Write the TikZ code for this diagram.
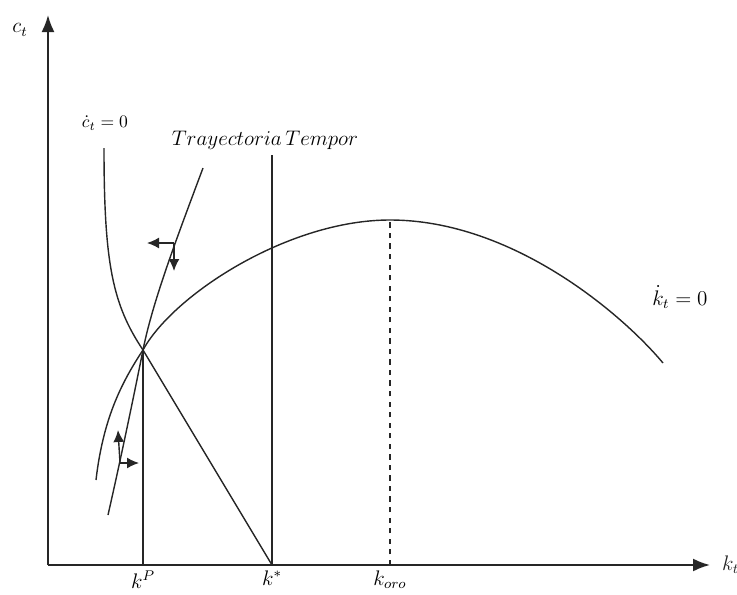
\documentclass[tikz,border=0pt]{standalone}
\usetikzlibrary{arrows.meta}
\begin{document}
\begin{tikzpicture}[>={Latex[length=3.4mm,width=2.6mm]}, every node/.style={font=\large},
    curva/.style={line width=0.8pt, black!85},
    flecha/.style={line width=0.8pt, black!85, -{Latex[length=2.4mm,width=2.2mm]}}]
    \useasboundingbox (-0.96,-0.58) rectangle (13.78,11.3);
    % puntos principales
    \coordinate (O) at (0,0);
    \coordinate (E) at (1.9,4.3);
    \coordinate (kp) at (1.9,0);
    \coordinate (ks) at (4.48,0);
    \coordinate (koro) at (6.84,0);
    \coordinate (oro) at (6.84,6.9);

    % ejes
    \draw[->, line width=1.1pt, black!85] (O) -- (13.24,0) node[right=3pt] {$k_t$};
    \draw[->, line width=1.1pt, black!85] (O) -- (0,11.0);
    \node at (-0.56,10.7) {$c_t$};

    % curva kdot = 0
    \draw[curva] (0.96,1.7) .. controls (1.1,2.9) and (1.45,3.62) .. (E)
        .. controls (2.5,5.4) and (4.8,6.9) .. (oro)
        .. controls (9.3,6.9) and (11.5,5.0) .. (12.3,4.04);
    \node at (12.64,5.36) {$\dot{k}_t=0$};

    % curva cdot = 0
    \draw[curva] (1.12,8.34) .. controls (1.12,6.0) and (1.3,5.2) .. (E) -- (ks);
    \node[font=\normalsize] at (1.14,8.84) {$\dot{c}_t=0$};

    % trayectoria
    \draw[curva] (1.2,1.0) .. controls (1.45,2.1) and (1.7,3.3) .. (E)
        .. controls (2.1,5.3) and (2.6,6.6) .. (3.1,7.94);
    \node at (4.34,8.5) {$Trayectoria\,Tempor$};

    % lineas verticales
    \draw[curva] (kp) -- (E);
    \draw[curva] (ks) -- (4.48,8.2);
    \draw[curva, dashed] (koro) -- (oro);

    % flechas de movimiento
    \draw[flecha] (2.52,6.44) -- (1.98,6.44);
    \draw[flecha] (2.52,6.44) -- (2.52,5.88);
    \draw[flecha] (1.44,2.04) -- (1.4,2.7);
    \draw[flecha] (1.44,2.04) -- (1.82,2.04);

    % etiquetas del eje k
    \node at (1.9,-0.3) {$k^P$};
    \node at (4.48,-0.26) {$k^*$};
    \node at (6.84,-0.3) {$k_{oro}$};
\end{tikzpicture}
\end{document}
